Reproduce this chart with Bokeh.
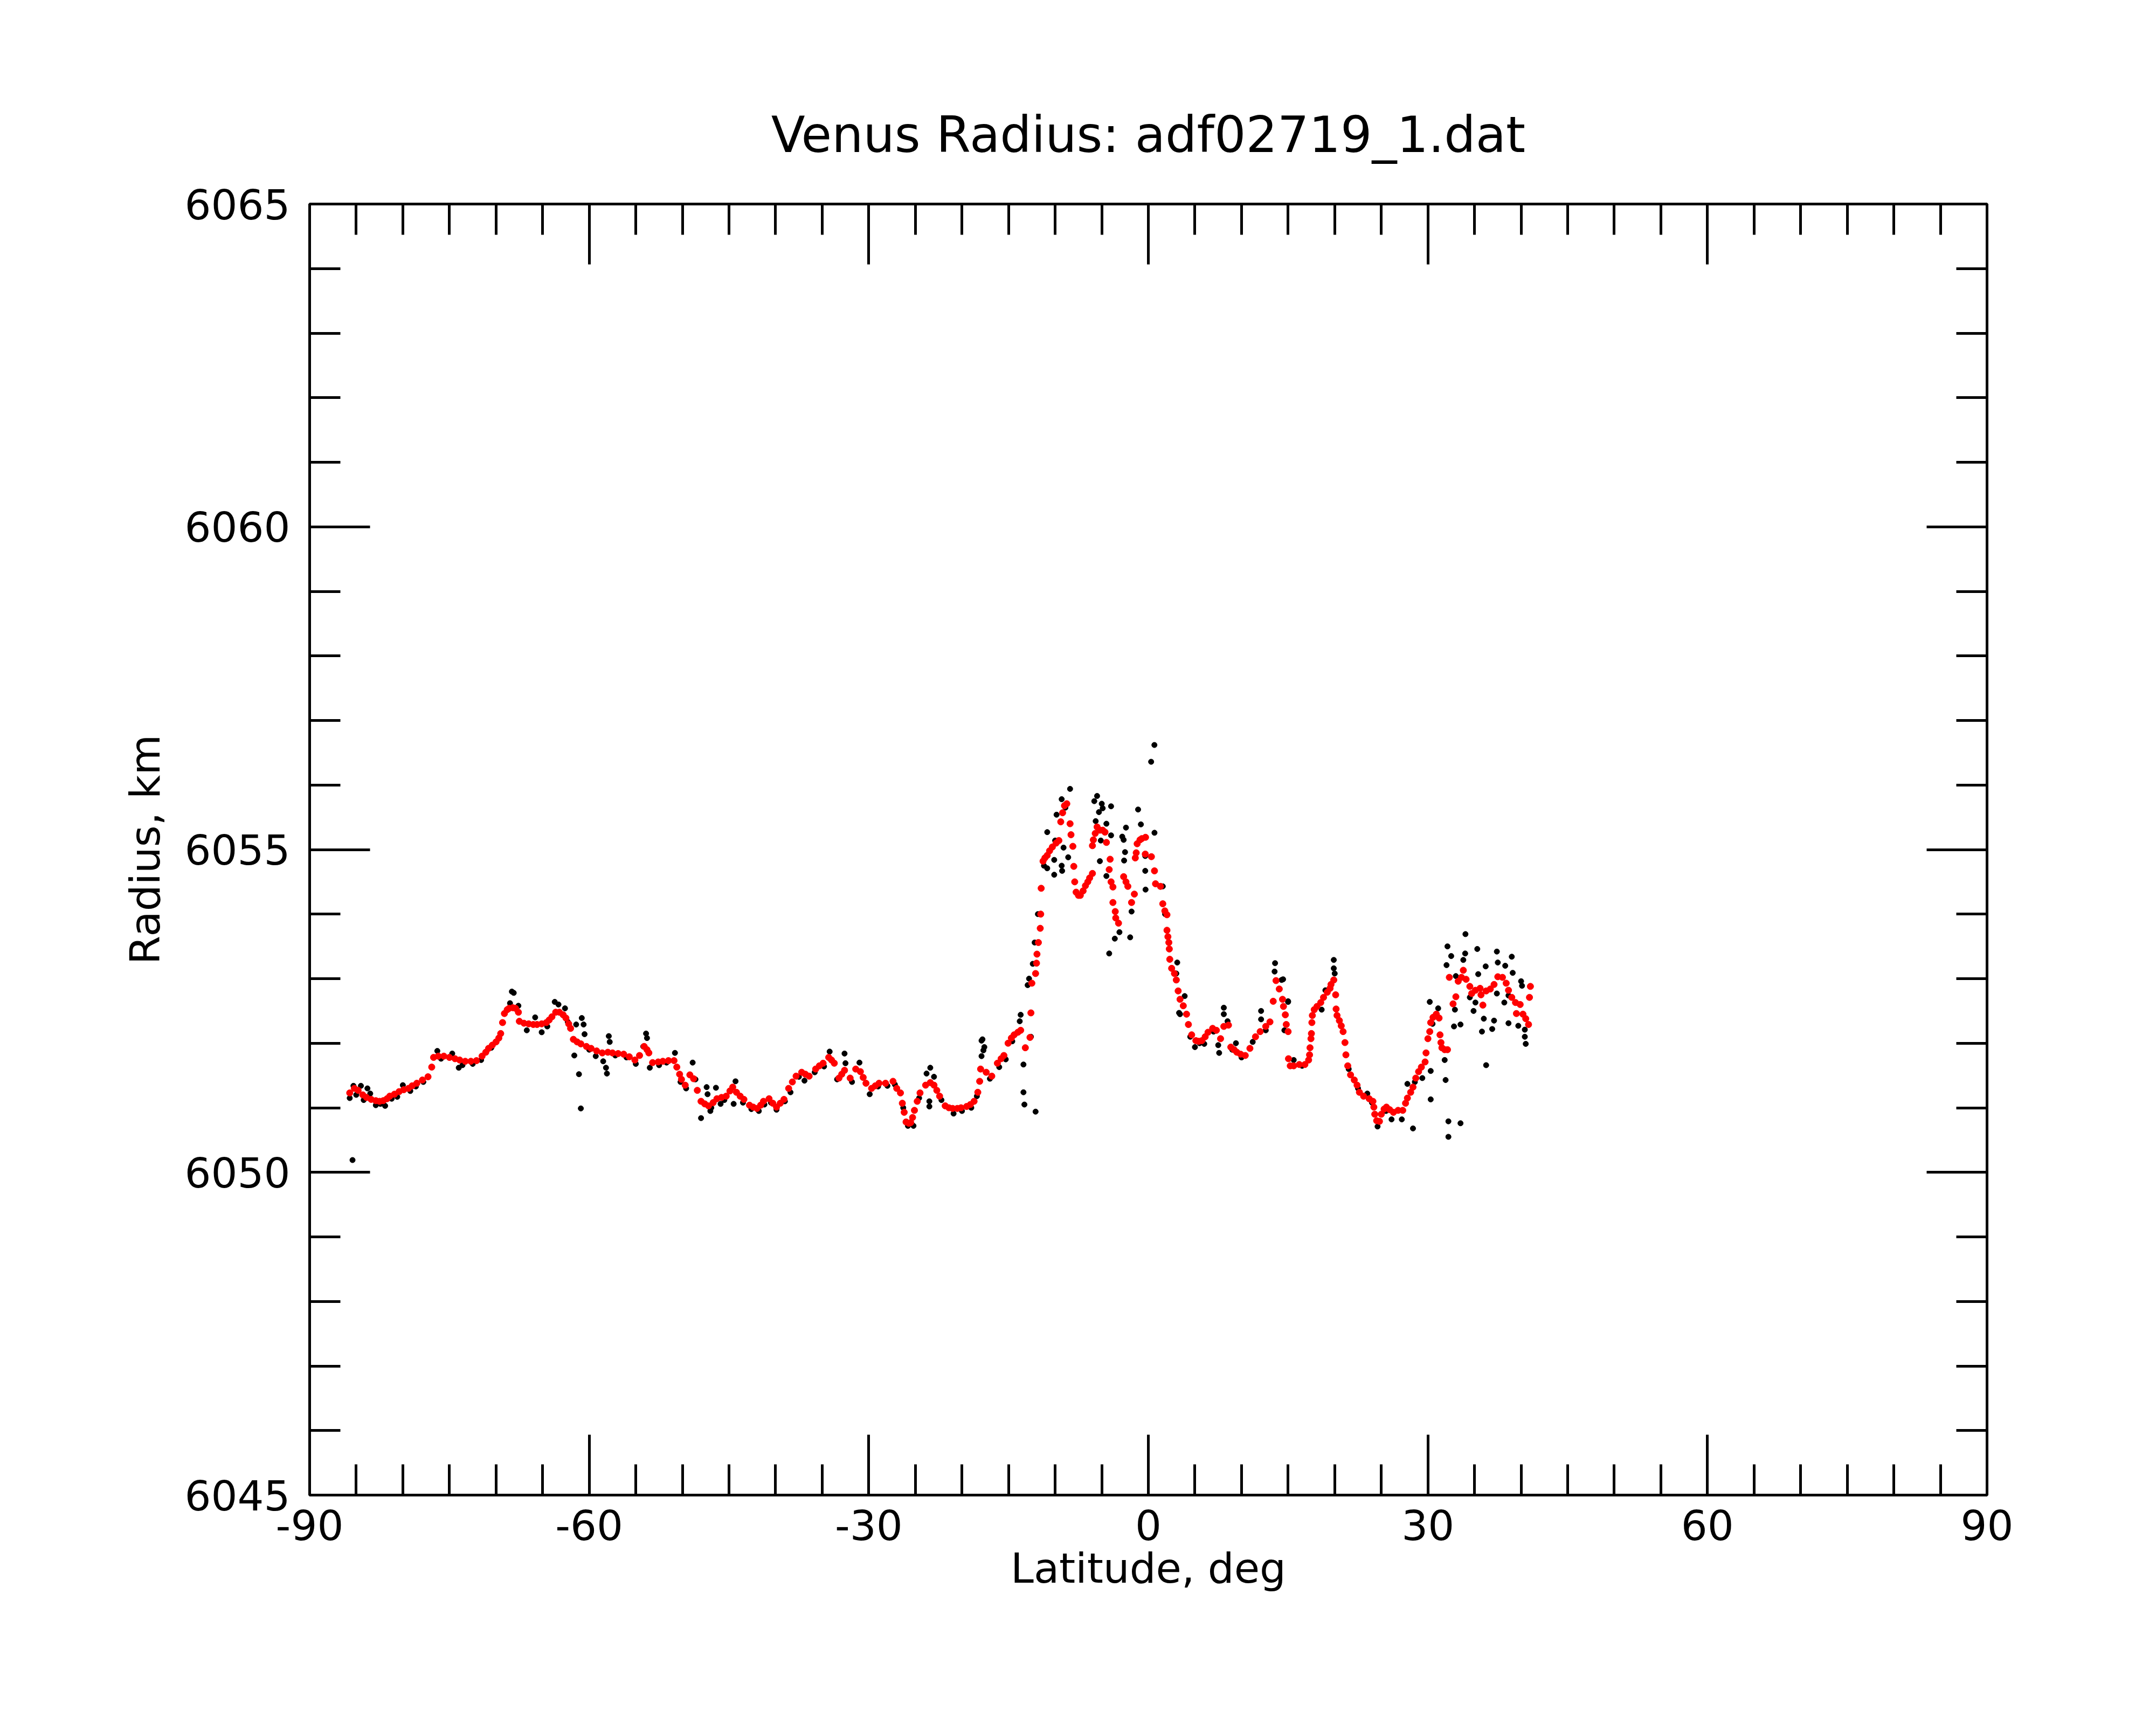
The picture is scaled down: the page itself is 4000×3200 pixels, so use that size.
from bokeh.plotting import figure
from bokeh.models import Range1d, FixedTicker, LinearAxis
from bokeh.embed import file_html
from bokeh.resources import INLINE

title_text = "Venus Radius: adf02719_1.dat"
x_label = "Latitude, deg"
y_label = "Radius, km"

x_major = [-90, -60, -30, 0, 30, 60, 90]
x_minor = [-85, -80, -75, -70, -65, -55, -50, -45, -40, -35, -25, -20, -15, -10, -5,
           5, 10, 15, 20, 25, 35, 40, 45, 50, 55, 65, 70, 75, 80, 85]
y_major = [6045, 6050, 6055, 6060, 6065]
y_minor = [6046, 6047, 6048, 6049, 6051, 6052, 6053, 6054, 6056, 6057, 6058, 6059,
           6061, 6062, 6063, 6064]
x_tick_labels = ["-90", "-60", "-30", "0", "30", "60", "90"]

# smoothed radius (red)
red_lat = [-85.7, -85.2, -84.8, -84.3, -83.9, -83.4, -82.9, -82.5, -82.1, -81.7, -81.4, -80.9,
           -80.4, -79.9, -79.4, -79.0, -78.5, -77.9, -77.3, -76.9, -76.7, -76.2, -75.6, -75.0,
           -74.4, -73.9, -73.3, -72.7, -72.1, -71.5, -71.1, -70.8, -70.4, -70.0, -69.7, -69.5,
           -69.3, -69.1, -68.8, -68.6, -68.2, -67.9, -67.6, -67.5, -67.0, -66.5, -66.0, -65.6,
           -65.1, -64.6, -64.3, -64.0, -63.6, -63.2, -62.8, -62.5, -62.2, -62.0, -61.7, -61.3,
           -60.9, -60.3, -59.8, -59.2, -58.6, -58.0, -57.5, -56.9, -56.3, -55.7, -55.1, -54.6,
           -54.1, -53.8, -53.6, -53.2, -52.6, -52.1, -51.5, -50.9, -50.6, -50.3, -50.1, -49.7,
           -49.2, -48.8, -48.4, -48.0, -47.6, -47.2, -46.7, -46.3, -45.8, -45.3, -44.9, -44.6,
           -44.2, -43.8, -43.4, -42.8, -42.4, -42.0, -41.6, -41.3, -40.7, -40.3, -39.9, -39.5,
           -39.1, -38.6, -38.2, -37.8, -37.2, -36.8, -36.4, -35.7, -35.3, -34.9, -34.3, -34.0,
           -33.7, -33.2, -32.9, -32.6, -32.0, -31.4, -30.9, -30.6, -30.3, -29.7, -29.3, -28.9,
           -28.2, -27.4, -27.0, -26.6, -26.4, -26.2, -26.0, -25.7, -25.5, -25.3, -25.1, -24.8,
           -24.5, -23.9, -23.4, -23.0, -22.7, -22.4, -21.8, -21.4, -21.0, -20.5, -20.1, -19.5,
           -19.1, -18.7, -18.3, -18.1, -18.0, -17.4, -16.8, -16.2, -15.8, -15.5, -15.05, -14.7,
           -14.4, -14.0, -13.7, -13.2, -12.7, -12.6, -12.5, -12.1, -12.0, -11.95, -11.8, -11.6,
           -11.55, -11.5, -11.3, -11.1, -10.85, -10.6, -10.3, -9.9, -9.6, -9.4, -9.2, -9.0,
           -8.75, -8.4, -8.3, -8.1, -8.0, -7.9, -7.75, -7.5, -7.3, -7.0, -6.75, -6.5,
           -6.3, -6.0, -6.0, -5.9, -5.7, -5.5, -5.2, -4.9, -4.65, -4.5, -4.1, -4.2,
           -4.0, -3.8, -3.8, -3.55, -3.5, -3.2, -2.65, -2.4, -2.2, -1.8, -1.5, -1.4,
           -1.3, -1.2, -0.9, -0.7, -0.3, -0.33, 0.33, 0.66, 0.77, 1.3, 1.55, 1.77,
           2.0, 2.0, 2.1, 2.2, 2.25, 2.3, 2.5, 2.8, 3.0, 3.2, 3.4, 3.75,
           4.1, 4.3, 4.65, 5.1, 5.4, 5.75, 6.1, 6.4, 6.9, 7.3, 7.75, 8.1,
           8.6, 8.85, 9.2, 9.5, 9.9, 10.4, 10.9, 11.5, 12.0, 12.6, 13.05, 13.4,
           13.7, 14.05, 14.4, 14.5, 14.7, 14.8, 15.0, 15.04, 15.23, 15.6, 16.2, 16.8,
           17.2, 17.3, 17.35, 17.45, 17.5, 17.55, 17.6, 17.8, 18.1, 18.5, 18.8, 19.2,
           19.5, 19.6, 19.9, 20.1, 20.15, 20.25, 20.5, 20.7, 20.9, 21.1, 21.2, 21.4,
           21.7, 22.1, 22.4, 22.65, 23.1, 23.7, 24.1, 24.2, 24.3, 24.5, 24.8, 25.0,
           25.3, 25.55, 25.9, 26.3, 26.8, 27.3, 27.6, 27.8, 28.15, 28.4, 28.7, 29.0,
           29.3, 29.7, 29.8, 30.0, 30.2, 30.3, 30.55, 30.9, 31.2, 31.3, 31.4, 31.5,
           31.8, 32.1, 32.3, 32.7, 33.0, 33.25, 33.6, 33.8, 34.1, 34.5, 34.7, 35.1,
           35.6, 35.7, 35.9, 36.25, 36.7, 37.1, 37.5, 38.0, 38.4, 38.65, 39.0, 39.4,
           39.9, 39.5, 40.2, 40.5, 40.8, 41.0, 40.9]
red_r = [6051.23, 6051.30, 6051.27, 6051.20, 6051.16, 6051.13, 6051.11, 6051.10, 6051.11, 6051.14, 6051.18, 6051.21,
         6051.25, 6051.28, 6051.30, 6051.34, 6051.38, 6051.43, 6051.48, 6051.63, 6051.78, 6051.80, 6051.80, 6051.78,
         6051.76, 6051.74, 6051.72, 6051.72, 6051.73, 6051.80, 6051.86, 6051.92, 6051.97, 6052.02, 6052.08, 6052.15,
         6052.32, 6052.46, 6052.52, 6052.54, 6052.55, 6052.54, 6052.48, 6052.34, 6052.31, 6052.30, 6052.29, 6052.29,
         6052.30, 6052.32, 6052.36, 6052.41, 6052.48, 6052.48, 6052.44, 6052.39, 6052.30, 6052.23, 6052.06, 6052.02,
         6051.99, 6051.95, 6051.92, 6051.88, 6051.85, 6051.86, 6051.85, 6051.84, 6051.83, 6051.79, 6051.74, 6051.81,
         6051.95, 6051.90, 6051.85, 6051.70, 6051.71, 6051.72, 6051.73, 6051.73, 6051.63, 6051.52, 6051.44, 6051.35,
         6051.51, 6051.45, 6051.27, 6051.10, 6051.06, 6051.03, 6051.08, 6051.14, 6051.16, 6051.18, 6051.26, 6051.32,
         6051.24, 6051.18, 6051.13, 6051.04, 6051.01, 6050.99, 6051.04, 6051.10, 6051.14, 6051.07, 6051.01, 6051.07,
         6051.13, 6051.30, 6051.40, 6051.49, 6051.55, 6051.52, 6051.49, 6051.60, 6051.65, 6051.69, 6051.78, 6051.74,
         6051.69, 6051.46, 6051.52, 6051.58, 6051.46, 6051.60, 6051.56, 6051.47, 6051.38, 6051.30, 6051.34, 6051.38,
         6051.38, 6051.41, 6051.30, 6051.23, 6051.07, 6050.93, 6050.78, 6050.76, 6050.77, 6050.85, 6050.96, 6051.10,
         6051.23, 6051.35, 6051.39, 6051.35, 6051.27, 6051.18, 6051.03, 6051.00, 6050.99, 6050.99, 6051.00, 6051.02,
         6051.05, 6051.10, 6051.24, 6051.41, 6051.60, 6051.55, 6051.49, 6051.69, 6051.76, 6051.81, 6052.00, 6052.08,
         6052.13, 6052.17, 6052.20, 6051.93, 6052.09, 6052.47, 6052.93, 6053.08, 6053.24, 6053.38, 6053.56, 6053.78,
         6054.00, 6054.40, 6054.82, 6054.87, 6054.91, 6054.98, 6055.04, 6055.10, 6055.14, 6055.43, 6055.57, 6055.68,
         6055.71, 6055.40, 6055.23, 6055.05, 6054.74, 6054.50, 6054.34, 6054.29, 6054.29, 6054.36, 6054.44, 6054.50,
         6054.56, 6054.63, 6055.06, 6055.15, 6055.25, 6055.35, 6055.30, 6055.30, 6055.27, 6055.11, 6054.85, 6054.69,
         6054.50, 6054.42, 6054.18, 6054.04, 6053.94, 6053.86, 6054.58, 6054.50, 6054.43, 6054.18, 6054.31, 6054.87,
         6054.95, 6055.09, 6055.15, 6055.17, 6055.19, 6054.93, 6054.89, 6054.67, 6054.47, 6054.43, 6054.16, 6054.05,
         6053.99, 6053.75, 6053.65, 6053.56, 6053.46, 6053.30, 6053.16, 6053.08, 6052.98, 6052.81, 6052.68, 6052.58,
         6052.45, 6052.29, 6052.13, 6052.04, 6052.03, 6052.04, 6052.10, 6052.17, 6052.23, 6052.20, 6052.07, 6052.26,
         6052.28, 6051.94, 6051.90, 6051.86, 6051.83, 6051.81, 6051.92, 6052.10, 6052.18, 6052.26, 6052.33, 6052.65,
         6052.97, 6052.84, 6052.68, 6052.57, 6052.44, 6052.29, 6052.18, 6051.76, 6051.65, 6051.65, 6051.67, 6051.67,
         6051.74, 6051.82, 6051.93, 6052.07, 6052.15, 6052.32, 6052.43, 6052.52, 6052.57, 6052.63, 6052.71, 6052.79,
         6052.85, 6052.91, 6052.98, 6052.75, 6052.53, 6052.43, 6052.35, 6052.27, 6052.18, 6052.01, 6051.82, 6051.65,
         6051.51, 6051.43, 6051.35, 6051.24, 6051.18, 6051.14, 6051.10, 6051.01, 6050.90, 6050.80, 6050.79, 6050.90,
         6050.98, 6051.01, 6050.97, 6050.93, 6050.96, 6050.96, 6051.07, 6051.15, 6051.24, 6051.32, 6051.46, 6051.56,
         6051.63, 6051.71, 6051.85, 6052.07, 6052.18, 6052.32, 6052.40, 6052.45, 6052.39, 6052.13, 6052.01, 6051.93,
         6051.90, 6051.90, 6053.02, 6052.61, 6052.72, 6052.96, 6053.02, 6053.13, 6052.99, 6052.88, 6052.77, 6052.82,
         6052.85, 6052.75, 6052.59, 6052.81, 6052.84, 6052.91, 6053.03, 6053.02, 6052.93, 6052.82, 6052.71, 6052.63,
         6052.60, 6052.46, 6052.45, 6052.38, 6052.29, 6052.88, 6052.71]

# raw radius (black)
blk_lat = [-85.7, -85.4, -85.3, -85.0, -84.5, -84.2, -83.8, -83.5, -82.9, -82.4, -81.9, -81.2,
           -80.6, -80.0, -79.2, -78.6, -77.8, -76.3, -75.9, -74.7, -74.0, -73.6, -72.5, -71.6,
           -70.5, -68.5, -68.3, -68.1, -67.6, -66.7, -65.8, -65.1, -64.5, -63.7, -63.3, -62.6,
           -62.3, -61.6, -61.4, -61.1, -60.9, -60.8, -60.6, -60.5, -60.0, -59.3, -58.5, -58.2,
           -58.1, -57.9, -57.8, -57.2, -56.0, -55.0, -54.2, -53.9, -53.8, -53.5, -52.5, -51.7,
           -50.8, -50.2, -49.6, -48.9, -48.6, -48.0, -47.4, -47.3, -47.0, -46.9, -46.4, -45.9,
           -45.5, -44.5, -44.3, -43.5, -42.6, -41.8, -41.2, -40.5, -39.9, -39.0, -38.4, -37.5,
           -36.9, -35.8, -34.8, -34.2, -33.4, -32.6, -32.5, -31.8, -31.0, -29.9, -29.0, -28.0,
           -27.2, -26.3, -25.8, -25.2, -24.6, -23.8, -23.5, -23.5, -23.4, -23.0, -22.2, -20.9,
           -20.0, -19.0, -18.4, -17.9, -17.9, -17.8, -17.7, -17.6, -17.0, -16.0, -15.3, -14.6,
           -13.8, -13.7, -13.4, -13.4, -13.3, -12.1, -12.6, -12.95, -12.8, -12.4, -12.2, -11.85,
           -11.2, -10.85, -10.85, -10.1, -10.1, -10.0, -9.85, -9.3, -9.3, -9.25, -9.1, -8.6,
           -8.4, -8.9, -5.8, -5.5, -5.65, -5.3, -5.2, -5.1, -5.0, -4.9, -4.5, -4.5,
           -4.2, -4.0, -4.0, -3.6, -3.1, -2.8, -2.65, -2.6, -2.5, -2.4, -1.95, -1.8,
           -1.1, -0.8, -0.33, -0.33, -0.3, 0.3, 0.65, 0.66, 1.55, 1.8, 3.0, 3.1,
           3.3, 3.4, 3.9, 4.5, 5.0, 5.5, 6.0, 7.0, 7.5, 7.6, 8.1, 8.1,
           8.5, 9.4, 9.0, 10.0, 11.2, 12.1, 12.1, 12.6, 13.55, 13.6, 14.3, 14.46,
           14.6, 15.0, 15.0, 15.6, 16.5, 18.6, 19.0, 19.9, 19.9, 20.0, 21.5, 22.5,
           23.5, 24.0, 24.6, 25.5, 26.1, 27.2, 27.8, 28.4, 28.6, 29.4, 30.2, 30.3,
           30.3, 30.5, 31.1, 31.8, 31.9, 32.0, 32.1, 32.2, 32.2, 32.5, 32.8, 32.9,
           33.0, 33.5, 33.5, 33.8, 34.0, 34.03, 34.5, 34.9, 35.1, 35.3, 35.4, 35.8,
           36.0, 36.2, 36.25, 36.9, 37.1, 37.4, 37.4, 37.5, 38.2, 38.3, 38.65, 38.65,
           39.0, 39.1, 39.7, 40.0, 40.1, 40.4, 40.4, 40.5]
blk_r = [6051.15, 6050.19, 6051.34, 6051.20, 6051.34, 6051.12, 6051.30, 6051.22, 6051.04, 6051.06, 6051.03, 6051.14,
         6051.17, 6051.35, 6051.26, 6051.33, 6051.40, 6051.88, 6051.76, 6051.84, 6051.62, 6051.66, 6051.68, 6051.74,
         6051.93, 6052.62, 6052.80, 6052.78, 6052.58, 6052.20, 6052.40, 6052.17, 6052.26, 6052.64, 6052.60, 6052.54,
         6052.33, 6051.81, 6052.29, 6051.52, 6050.99, 6052.39, 6052.29, 6052.14, 6051.90, 6051.80, 6051.72, 6051.62,
         6051.53, 6052.11, 6052.02, 6051.81, 6051.78, 6051.68, 6051.95, 6052.15, 6052.08, 6051.62, 6051.66, 6051.70,
         6051.85, 6051.40, 6051.30, 6051.70, 6051.44, 6050.84, 6051.32, 6051.21, 6050.95, 6051.00, 6051.31, 6051.06,
         6051.12, 6051.06, 6051.41, 6051.08, 6050.98, 6050.95, 6051.05, 6051.08, 6050.97, 6051.10, 6051.24, 6051.48,
         6051.42, 6051.55, 6051.64, 6051.87, 6051.44, 6051.84, 6051.69, 6051.40, 6051.70, 6051.21, 6051.33, 6051.34,
         6051.36, 6051.00, 6050.72, 6050.72, 6051.15, 6051.53, 6051.10, 6051.02, 6051.62, 6051.48, 6051.12, 6050.91,
         6050.95, 6051.00, 6051.18, 6051.80, 6052.04, 6052.06, 6051.89, 6051.94, 6051.45, 6051.63, 6051.75, 6052.03,
         6052.34, 6052.44, 6051.67, 6051.24, 6051.05, 6050.94, 6052.10, 6052.90, 6053.00, 6053.23, 6053.56, 6054.00,
         6054.75, 6055.27, 6054.71, 6054.84, 6054.61, 6055.14, 6055.54, 6055.78, 6054.75, 6054.67, 6055.03, 6054.88,
         6055.94, 6055.65, 6055.75, 6055.83, 6055.44, 6055.58, 6054.82, 6055.14, 6055.71, 6055.64, 6055.40, 6054.59,
         6053.39, 6055.67, 6055.22, 6053.62, 6053.72, 6055.20, 6055.15, 6054.83, 6054.96, 6055.34, 6053.64, 6054.04,
         6055.62, 6055.39, 6054.90, 6054.67, 6054.38, 6056.36, 6056.62, 6055.26, 6054.43, 6054.00, 6053.08, 6053.25,
         6052.47, 6052.45, 6052.73, 6052.10, 6051.94, 6052.00, 6051.99, 6052.18, 6051.97, 6051.85, 6052.55, 6052.45,
         6052.34, 6052.00, 6051.90, 6051.78, 6052.02, 6052.50, 6052.37, 6052.20, 6053.11, 6053.24, 6052.98, 6052.99,
         6052.20, 6052.65, 6052.64, 6051.74, 6051.65, 6052.52, 6052.82, 6053.29, 6053.16, 6053.08, 6051.60, 6051.30,
         6051.22, 6051.08, 6050.71, 6050.95, 6050.82, 6050.82, 6051.37, 6050.68, 6051.40, 6051.46, 6052.64, 6051.57,
         6051.13, 6052.30, 6052.54, 6051.74, 6051.43, 6053.21, 6053.50, 6050.79, 6050.55, 6053.35, 6052.26, 6052.52,
         6053.04, 6052.29, 6050.76, 6053.29, 6053.39, 6053.69, 6052.71, 6052.50, 6052.63, 6053.46, 6053.07, 6052.18,
         6052.38, 6053.19, 6051.66, 6052.22, 6052.35, 6053.42, 6052.77, 6053.25, 6052.63, 6053.20, 6052.74, 6052.31,
         6053.34, 6053.09, 6052.27, 6052.96, 6052.89, 6052.21, 6052.10, 6051.99]

FONT = "DejaVu Sans"

p = figure(width=3984, height=3184, output_backend="svg", toolbar_location=None,
           x_range=Range1d(-90, 90), y_range=Range1d(6045, 6065),
           frame_width=3112, frame_height=2395,
           min_border_left=574, min_border_right=298, min_border_top=378, min_border_bottom=411,
           x_axis_location=None, y_axis_location=None)
p.xgrid.visible = False
p.ygrid.visible = False
p.background_fill_color = "white"
p.border_fill_color = "white"
p.outline_line_color = "black"
p.outline_line_width = 5

p.title.text = title_text
p.title.align = "center"
p.title.text_font = FONT
p.title.text_font_size = "92px"
p.title.text_font_style = "normal"
p.title.text_color = "black"
p.title.standoff = 150


def style_axis(ax, ticks, minor, show_labels):
    ax.ticker = FixedTicker(ticks=ticks, minor_ticks=minor)
    ax.axis_line_width = 5
    ax.axis_line_color = "black"
    ax.major_tick_in = 112
    ax.major_tick_out = 0
    ax.minor_tick_in = 57
    ax.minor_tick_out = 0
    ax.major_tick_line_width = 5
    ax.minor_tick_line_width = 5
    ax.major_tick_line_color = "black"
    ax.minor_tick_line_color = "black"
    ax.major_label_text_font = FONT
    ax.major_label_text_font_size = "77px"
    ax.major_label_text_color = "black"
    ax.axis_label_text_font = FONT
    ax.axis_label_text_font_size = "77px"
    ax.axis_label_text_font_style = "normal"
    ax.axis_label_text_color = "black"
    if not show_labels:
        ax.major_label_text_font_size = "0px"
        ax.major_label_text_color = None


xb = LinearAxis(axis_label=x_label)
style_axis(xb, x_major, x_minor, True)
xb.major_label_overrides = {t: s for t, s in zip(x_major, x_tick_labels)}
xb.major_label_standoff = 27
xb.axis_label_standoff = 5
p.add_layout(xb, "below")

yl = LinearAxis(axis_label=y_label)
style_axis(yl, y_major, y_minor, True)
yl.major_label_standoff = 36
yl.axis_label_standoff = 26
p.add_layout(yl, "left")

xt = LinearAxis()
style_axis(xt, x_major, x_minor, False)
p.add_layout(xt, "above")

yr = LinearAxis()
style_axis(yr, y_major, y_minor, False)
p.add_layout(yr, "right")

p.scatter(blk_lat, blk_r, size=10, color="black", marker="circle")
p.scatter(red_lat, red_r, size=12, color="red", marker="circle")

open("out.html", "w").write(file_html(p, INLINE))
